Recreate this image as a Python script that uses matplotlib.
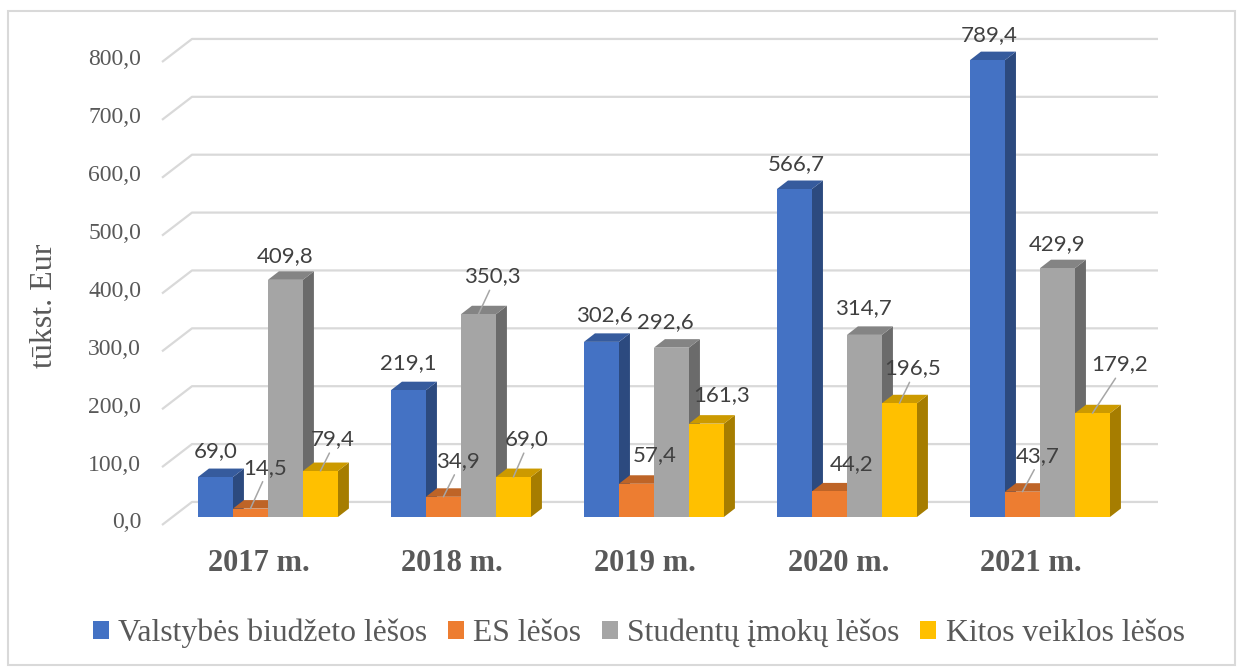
import matplotlib
matplotlib.use("Agg")
import matplotlib.pyplot as plt
from matplotlib.patches import Polygon, Rectangle, Patch
import numpy as np

years = ["2017 m.", "2018 m.", "2019 m.", "2020 m.", "2021 m."]
series = ["Valstybės biudžeto lėšos", "ES lėšos", "Studentų įmokų lėšos", "Kitos veiklos lėšos"]
valstybes = [69.0, 219.1, 302.6, 566.7, 789.4]
es = [14.5, 34.9, 57.4, 44.2, 43.7]
studentu = [409.8, 350.3, 292.6, 314.7, 429.9]
kitos = [79.4, 69.0, 161.3, 196.5, 179.2]
yticks = [0, 100, 200, 300, 400, 500, 600, 700, 800]

values = [valstybes, es, studentu, kitos]
colors = ["#4472C4", "#ED7D31", "#A5A5A5", "#FFC000"]

# label offsets in pixels from the front top centre of each bar, and leader flags
label_off = [
    [(0, 26), (0, 27), (3, 27), (2, 25), (2, 25)],
    [(15, 41), (14, 36), (18, 29), (22, 27), (15, 36)],
    [(0, 24), (14, 38), (-6, 26), (-1, 27), (0, 24)],
    [(12, 32), (13, 38), (15, 29), (13, 35), (27, 49)],
]
leader = [
    [0, 0, 0, 0, 0],
    [1, 1, 0, 0, 1],
    [0, 1, 0, 0, 0],
    [1, 1, 0, 1, 1],
]


def shade(c, f):
    r, g, b = matplotlib.colors.to_rgb(c)
    return (r * f, g * f, b * f)


def fmt(v):
    return f"{v:.1f}".replace(".", ",")


fig = plt.figure(figsize=(12.43, 6.72), dpi=100)
ax = fig.add_axes([172 / 1243, 155 / 672, 966 / 1243, 463 / 672])
xmin, xmax = -0.497, 4.508
ax.set_xlim(xmin, xmax)
ax.set_ylim(0, 800)
ax.axis("off")

# depth offsets (data units)
bdx, bdy = 0.057, 14.7      # bar depth
wdx, wdy = 0.1036, 26.0     # back wall
fdx, fdy = -0.0518, -13.8   # front edge of floor

grid_c = "#d9d9d9"
for v in yticks:
    ax.plot([xmin + fdx, xmin + wdx, xmax + wdx], [v + fdy, v + wdy, v + wdy],
            color=grid_c, lw=1.6, zorder=1, clip_on=False, solid_capstyle="butt")
    ax.annotate(fmt(v), (xmin + fdx, v + fdy), xytext=(-21, 2), textcoords="offset pixels",
                ha="right", va="center", fontsize=17, family="Liberation Serif",
                color="#595959", annotation_clip=False)

w = 0.1813
x = np.arange(len(years))
for j, vals in enumerate(values):
    xs = x + (j - 1.5) * w
    z = 3 + j
    for xi, v in zip(xs, vals):
        l, r = xi - w / 2, xi + w / 2
        ax.add_patch(Polygon([(r, 0), (r + bdx, bdy), (r + bdx, v + bdy), (r, v)],
                             closed=True, fc=shade(colors[j], 0.65), ec="none", zorder=z, clip_on=False))
        ax.add_patch(Polygon([(l, v), (l + bdx, v + bdy), (r + bdx, v + bdy), (r, v)],
                             closed=True, fc=shade(colors[j], 0.8), ec="none", zorder=z, clip_on=False))
    ax.bar(xs, vals, width=w, color=colors[j], zorder=z + 0.1, clip_on=False)
    for i, (xi, v) in enumerate(zip(xs, vals)):
        ox, oy = label_off[j][i]
        ap = None
        if leader[j][i]:
            ap = dict(arrowstyle="-", color="#a6a6a6", lw=1.1, shrinkA=1, shrinkB=0,
                      relpos=(0.5, 0.1))
        ax.annotate(fmt(v), (xi, v), xytext=(ox, oy), textcoords="offset pixels",
                    ha="center", va="center", fontsize=16, family="Lato",
                    color="#404040", zorder=20, arrowprops=ap, annotation_clip=False)

for i, yr in enumerate(years):
    ax.text(i - 0.045, -80, yr, ha="center", va="center", fontsize=22,
            family="Liberation Serif", fontweight="bold", color="#595959")

fig.text(45 / 1243, 1 - 306 / 672, "tūkst. Eur", rotation=90, ha="center", va="center",
         fontsize=23, family="Liberation Serif", color="#595959")

handles = [Patch(facecolor=c, edgecolor="none") for c in colors]
fig.legend(handles, series, loc="center", bbox_to_anchor=(0.514, 0.058), ncol=4,
           frameon=False, prop={"family": "Liberation Serif", "size": 22.8},
           labelcolor="#595959", handlelength=0.5, handleheight=0.5,
           handletextpad=0.3, columnspacing=0.65)

fig.patches.append(Rectangle((8 / 1243, 7 / 672), 1227 / 1243, 654 / 672, transform=fig.transFigure,
                             fill=False, ec="#d9d9d9", lw=1.5))

fig.savefig("out.png", dpi=100)
